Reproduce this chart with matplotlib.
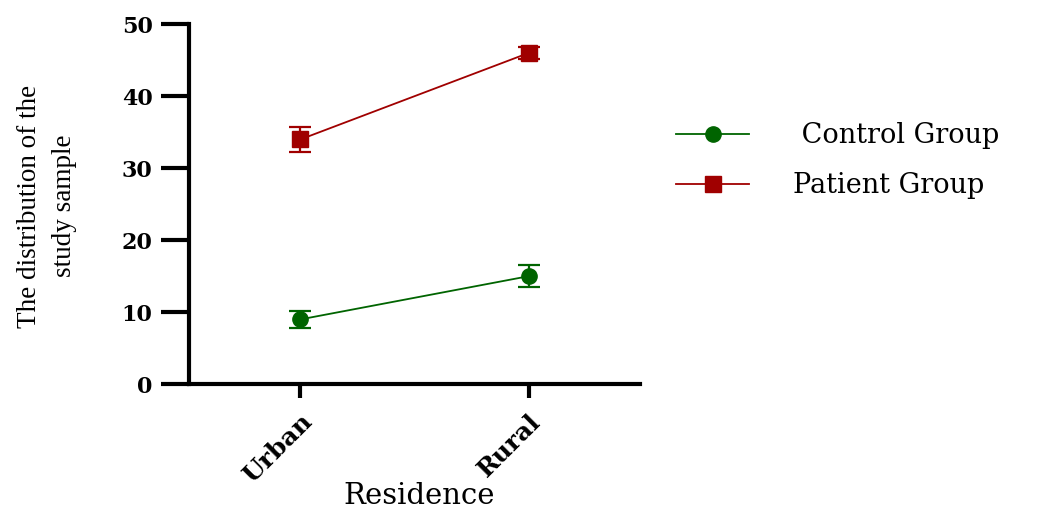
import matplotlib
matplotlib.use("Agg")
import matplotlib.pyplot as plt
from matplotlib.lines import Line2D
import numpy as np

categories = ["Urban", "Rural"]
control_mean = [9, 15]
control_err = [1.2, 1.5]
patient_mean = [34, 46]
patient_err = [1.7, 0.8]
yticks = [0, 10, 20, 30, 40, 50]

green = "#006400"
red = "#a00000"

fig = plt.figure(figsize=(10.48, 5.15), dpi=100)
ax = fig.add_axes([0.180, 0.254, 0.431, 0.699])

x = np.arange(len(categories))
ax.errorbar(x, control_mean, yerr=control_err, color=green, marker="o",
            markersize=11, linewidth=1.3, capsize=8, capthick=1.6, elinewidth=1.6)
ax.errorbar(x, patient_mean, yerr=patient_err, color=red, marker="s",
            markersize=12, linewidth=1.3, capsize=8, capthick=1.6, elinewidth=1.6)

ax.set_xlim(-0.49, 1.49)
ax.set_ylim(0, 50)
ax.set_yticks(yticks)
ax.set_xticks(x)
ax.set_xticklabels(categories, rotation=45, ha="right", va="top",
                   rotation_mode="anchor", family="DejaVu Serif",
                   fontweight="bold", fontsize=18)
for lab in ax.get_yticklabels():
    lab.set_family("DejaVu Serif")
    lab.set_fontweight("bold")
    lab.set_fontsize(16)

for s in ["top", "right"]:
    ax.spines[s].set_visible(False)
for s in ["left", "bottom"]:
    ax.spines[s].set_linewidth(3)
ax.tick_params(axis="y", length=20, width=3, pad=6)
ax.tick_params(axis="x", length=10, width=3, pad=8)

ax.set_xlabel("Residence", family="DejaVu Serif", fontsize=21)
ax.xaxis.set_label_coords(0.51, -0.272)
ax.xaxis.label.set_va("top")

fig.text(0.045, 0.60, "The distribution of the\nstudy sample", rotation=90,
         ha="center", va="center", family="Liberation Serif", fontsize=19.5,
         linespacing=1.55)

handles = [
    Line2D([], [], color=green, marker="o", markersize=11, linewidth=1.3),
    Line2D([], [], color=red, marker="s", markersize=11, linewidth=1.3),
]
labels = [" Control Group", "Patient Group"]
leg = fig.legend(handles, labels, loc="center left", bbox_to_anchor=(0.622, 0.688),
                 frameon=False, prop={"family": "DejaVu Serif", "size": 19.5},
                 handlelength=2.7, handletextpad=1.6, labelspacing=0.85)

fig.savefig("out.png", dpi=100)
